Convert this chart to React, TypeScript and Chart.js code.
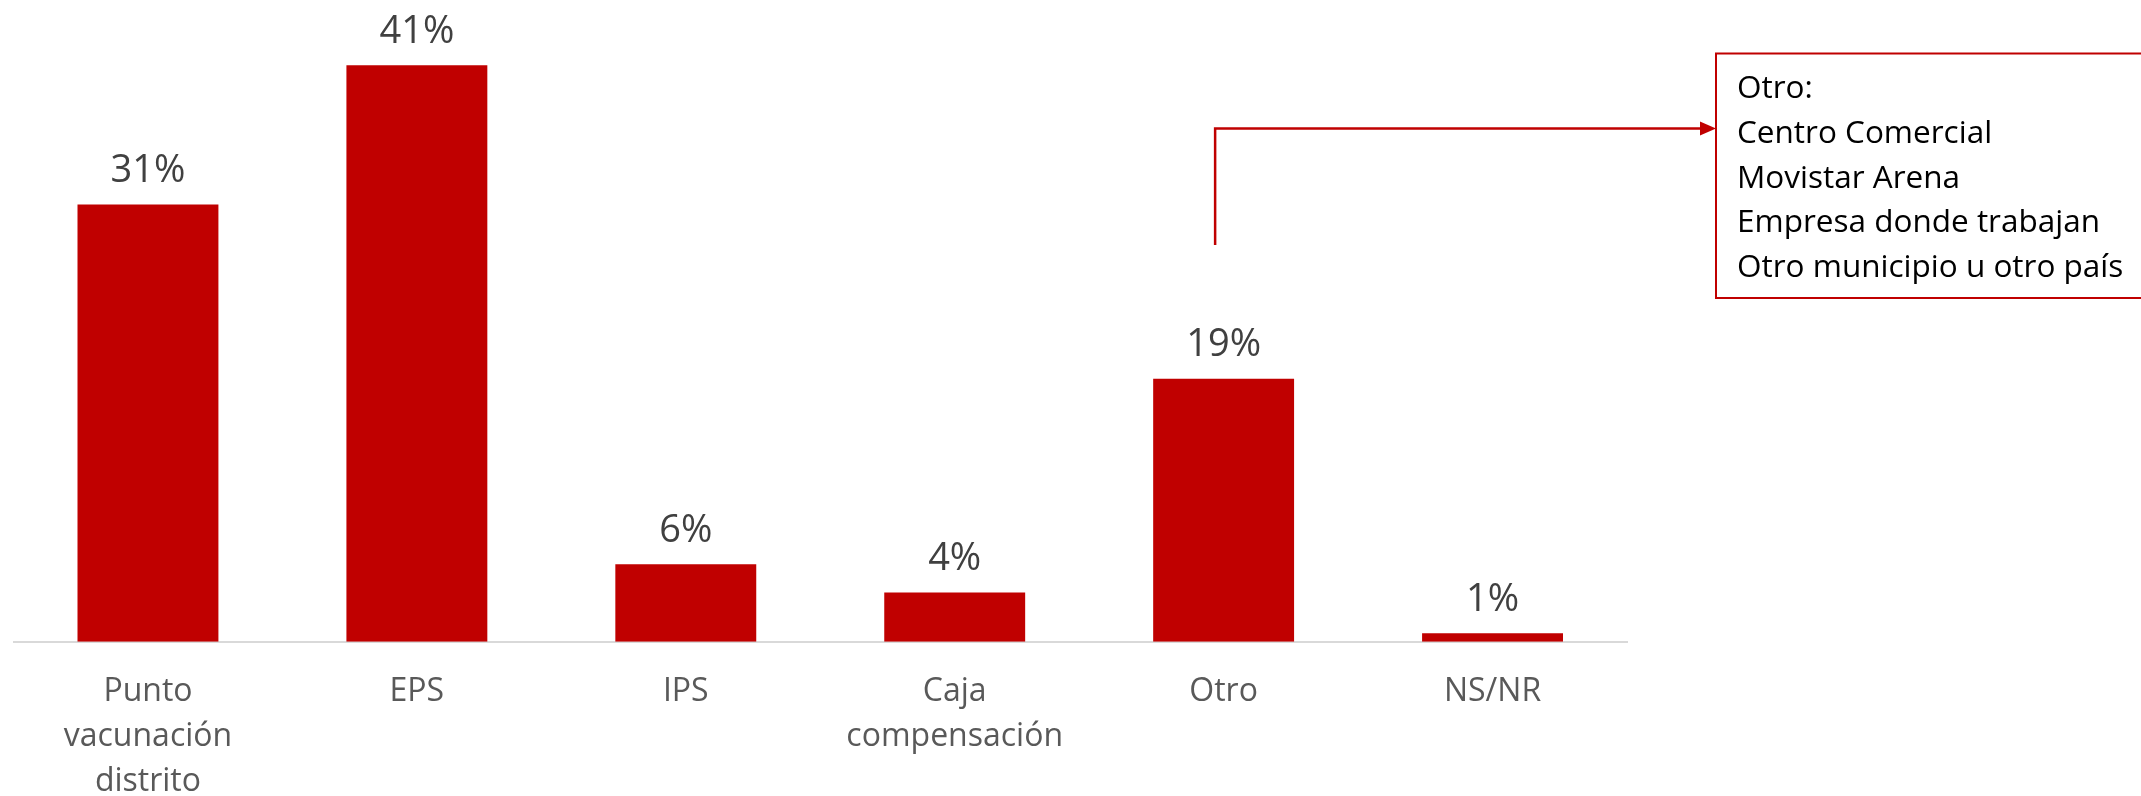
import React, { useEffect, useRef } from 'react';
import { Chart, registerables } from 'chart.js';

Chart.register(...registerables);

// ---- data ----
const categories: (string | string[])[] = [
  ['Punto', 'vacunación', 'distrito'],
  'EPS',
  'IPS',
  ['Caja', 'compensación'],
  'Otro',
  'NS/NR',
];
const values = [31.1, 41, 5.5, 3.5, 18.7, 0.6];
const valueLabels = ['31%', '41%', '6%', '4%', '19%', '1%'];
const noteLines = ['Otro:', 'Centro Comercial', 'Movistar Arena', 'Empresa donde trabajan', 'Otro municipio u otro país'];
const noteCategoryIndex = 4;

const RED = '#c00000';
const FONT = '"Open Sans", "Noto Sans", sans-serif';

const dataLabelPlugin = {
  id: 'dataLabels',
  afterDatasetsDraw(chart: any) {
    const ctx = chart.ctx;
    const meta = chart.getDatasetMeta(0);
    ctx.save();
    ctx.font = `38px ${FONT}`;
    ctx.fillStyle = '#404040';
    ctx.textAlign = 'center';
    ctx.textBaseline = 'alphabetic';
    meta.data.forEach((bar: any, i: number) => {
      ctx.fillText(valueLabels[i], bar.x, bar.y - 22.5);
    });
    ctx.restore();
  },
};

const notePlugin = {
  id: 'note',
  afterDraw(chart: any) {
    const ctx = chart.ctx;
    const meta = chart.getDatasetMeta(0);
    const bar = meta.data[noteCategoryIndex];
    const lineX = bar.x - 8.5;
    const boxLeft = 1716;
    const boxTop = 53.5;
    const boxBottom = 298;
    const arrowY = 128.5;
    ctx.save();
    // connector
    ctx.strokeStyle = RED;
    ctx.lineWidth = 2.5;
    ctx.beginPath();
    ctx.moveTo(lineX, 245);
    ctx.lineTo(lineX, arrowY);
    ctx.lineTo(boxLeft - 14, arrowY);
    ctx.stroke();
    ctx.fillStyle = RED;
    ctx.beginPath();
    ctx.moveTo(boxLeft - 16, arrowY - 7);
    ctx.lineTo(boxLeft, arrowY);
    ctx.lineTo(boxLeft - 16, arrowY + 7);
    ctx.closePath();
    ctx.fill();
    // box
    ctx.lineWidth = 2;
    ctx.strokeRect(boxLeft, boxTop, 2141 - boxLeft + 20, boxBottom - boxTop);
    // text
    ctx.fillStyle = '#000000';
    ctx.font = `31.5px ${FONT}`;
    ctx.textAlign = 'left';
    ctx.textBaseline = 'alphabetic';
    noteLines.forEach((t, i) => {
      ctx.fillText(t, 1737, 98.3 + i * 44.6);
    });
    ctx.restore();
  },
};

export default function App() {
  const ref = useRef<HTMLCanvasElement>(null);

  useEffect(() => {
    if (!ref.current) return;
    const chart = new Chart(ref.current, {
      type: 'bar',
      data: {
        labels: categories,
        datasets: [
          {
            data: values,
            backgroundColor: RED,
            borderWidth: 0,
            categoryPercentage: 1,
            barPercentage: 0.524,
          },
        ],
      },
      options: {
        responsive: false,
        animation: false,
        layout: { padding: { top: 9, left: 13.5, right: 514, bottom: 0 } },
        plugins: {
          legend: { display: false },
          tooltip: { enabled: false },
          title: { display: false },
        },
        scales: {
          x: {
            grid: { display: false, drawTicks: false },
            border: { display: true, color: '#d9d9d9', width: 2 },
            ticks: {
              color: '#595959',
              font: { family: FONT, size: 32, lineHeight: 1.4 },
              padding: 28,
              maxRotation: 0,
              autoSkip: false,
            },
            afterFit: (scale: any) => {
              scale.height = 154.3;
            },
          },
          y: {
            display: false,
            min: 0,
            max: 45,
          },
        },
      },
      plugins: [dataLabelPlugin, notePlugin],
    });
    return () => chart.destroy();
  }, []);

  return (
    <div style={{ position: 'fixed', left: 0, top: 0, width: 2141, height: 796, background: '#fff' }}>
      <canvas ref={ref} width={2141} height={796} style={{ display: 'block' }} />
    </div>
  );
}
